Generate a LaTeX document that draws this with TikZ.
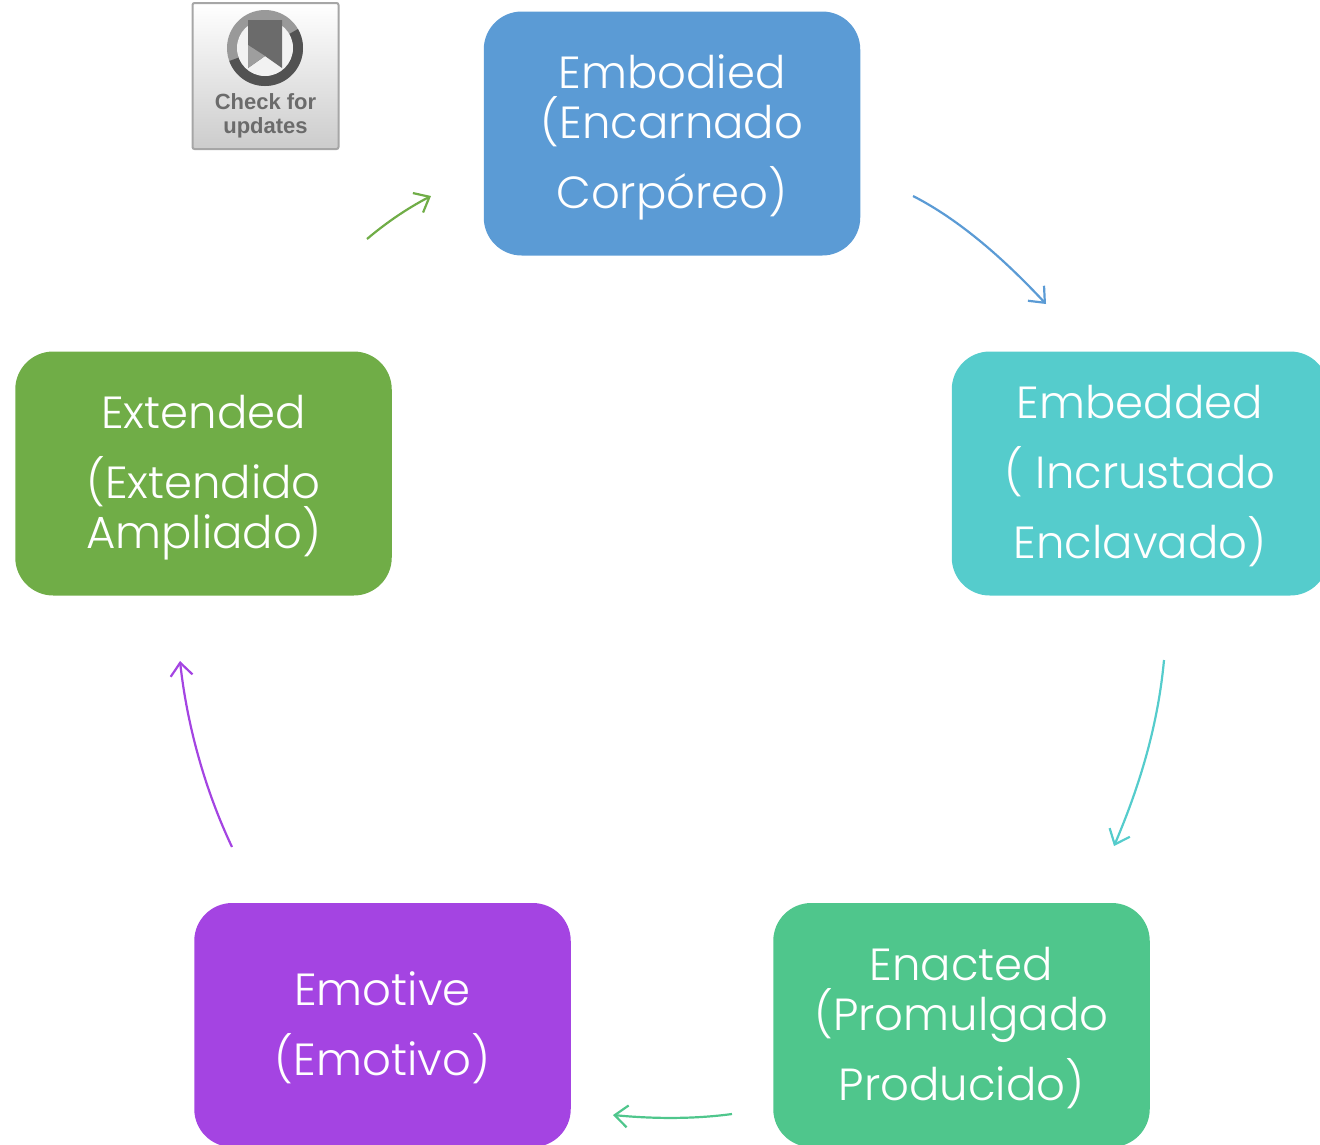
\documentclass[tikz,border=0pt]{standalone}
\usepackage{fontspec}
\setmainfont{Poppins}[UprightFont=* Light]
\newfontfamily\badgefont{Liberation Sans}
\usetikzlibrary{arrows.meta}
\definecolor{cblue}{HTML}{5B9BD5}
\definecolor{cteal}{HTML}{55CCCC}
\definecolor{cmint}{HTML}{4FC68C}
\definecolor{cviolet}{HTML}{A444E2}
\definecolor{cleaf}{HTML}{70AD47}
\newcommand{\boxlines}[1]{\raisebox{-11.5pt}[0pt][0pt]{\begin{tabular}{@{}c@{}}#1\end{tabular}}}
\newcommand{\tl}[1]{\smash{#1}}
\tikzset{
  x=1pt,y=-1pt,
  box/.style={rounded corners=38pt,minimum width=376.5pt,minimum height=244pt,inner sep=0pt,text=white,font=\fontsize{45}{50}\selectfont},
  flow/.style={line width=2.2pt,-{Straight Barb[length=13pt,width=22pt,line width=2.2pt]}},
}
\begin{document}
\begin{tikzpicture}
\useasboundingbox (0,0) rectangle (1320,1144);
\clip (0,0) rectangle (1320,1144);
\node[box,fill=cblue] (embodied) at (672,133.5) {\boxlines{\tl{Embodied}\\\tl{(Encarnado}\\[20pt]\tl{Corpóreo)}}};
\node[box,fill=cteal] (embedded) at (1140,473.5) {\boxlines{\tl{Embedded}\\[20pt]\tl{( Incrustado}\\[20pt]\tl{Enclavado)}}};
\node[box,fill=cmint] (enacted) at (961.5,1025) {\boxlines{\tl{Enacted}\\\tl{(Promulgado}\\[20pt]\tl{Producido)}}};
\node[box,fill=cviolet] (emotive) at (382.5,1025) {\boxlines{\tl{Emotive}\\[20pt]\tl{(Emotivo)}}};
\node[box,fill=cleaf] (extended) at (203.5,473.5) {\boxlines{\tl{Extended}\\[20pt]\tl{(Extendido}\\\tl{Ampliado)}}};
\coordinate (a1) at (913,196); \coordinate (a2) at (1046,304);
\coordinate (b1) at (1164,660); \coordinate (b2) at (1114,846);
\coordinate (c1) at (732,1114); \coordinate (c2) at (613,1115);
\coordinate (d1) at (232,847); \coordinate (d2) at (180,661);
\coordinate (e1) at (367,239); \coordinate (e2) at (431,196);
\draw[flow,cblue] (a1) .. controls (960,220) and (1005,260) .. (a2);
\draw[flow,cteal] (b1) .. controls (1158,725) and (1140,785) .. (b2);
\draw[flow,cmint] (c1) .. controls (695,1119) and (655,1119) .. (c2);
\draw[flow,cviolet] (d1) .. controls (205,790) and (187,725) .. (d2);
\draw[flow,cleaf] (e1) .. controls (387,222) and (408,208) .. (e2);
% badge
\node[draw=black!35,line width=2pt,rounded corners=2pt,minimum width=146pt,minimum height=146pt,inner sep=0pt,top color=white,bottom color=black!20] (badge) at (265.5,76) {};
\fill[black!40] (265,48) circle (38);
\fill[black!68] (265,48) ++(-30:38) arc (-30:160:38) -- ++(-20:10) arc (160:-30:28) -- cycle;
\fill[white!95!black] (265,48) circle (28);
\fill[black!58] (248,20) -- (282,20) -- (282,68) -- (265,56) -- (248,68) -- cycle;
\fill[black!38] (248,45) -- (265,56) -- (248,68) -- cycle;
\node[font=\badgefont\bfseries\fontsize{22}{24}\selectfont,text=black!58,align=center,inner sep=0pt] (badgetext) at (265.5,115.5) {Check for\\updates};
\end{tikzpicture}
\end{document}
